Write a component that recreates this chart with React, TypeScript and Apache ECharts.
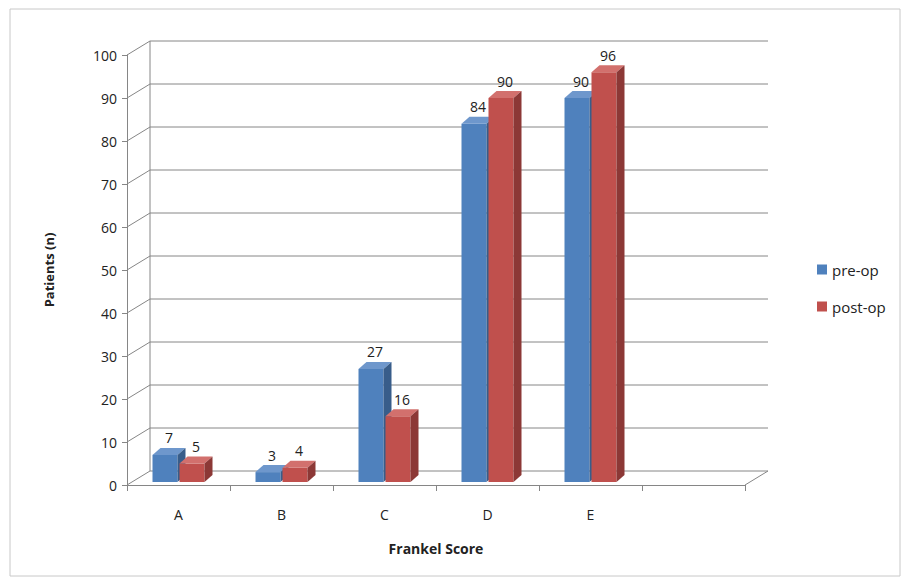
import React, { useEffect, useRef } from 'react';
import * as echarts from 'echarts';

const categories = ['A', 'B', 'C', 'D', 'E', ''];
const preOp = [7, 3, 27, 84, 90];
const postOp = [5, 4, 16, 90, 96];
const yTicks = [0, 10, 20, 30, 40, 50, 60, 70, 80, 90, 100];

const DX = 23;
const DY = -14;

function barSeries(name: string, values: number[], offset: number, front: string, top: string, side: string) {
  return {
    name,
    type: 'custom',
    z: 5,
    itemStyle: { color: front },
    data: values.map((v, i) => [i, v]),
    encode: { x: 0, y: 1 },
    renderItem: (params: any, api: any) => {
      const idx = api.value(0);
      const v = api.value(1);
      const base = api.coord([idx, 0]);
      const tp = api.coord([idx, v]);
      const bw = 25, dx = 8, dy = -7;
      const x0 = base[0] + offset;
      const yb = base[1] - 3;
      return {
        type: 'group',
        children: [
          { type: 'rect', shape: { x: x0, y: tp[1], width: bw, height: yb - tp[1] }, style: { fill: front } },
          { type: 'polygon', shape: { points: [[x0, tp[1]], [x0 + dx, tp[1] + dy], [x0 + bw + dx, tp[1] + dy], [x0 + bw, tp[1]]] }, style: { fill: top } },
          { type: 'polygon', shape: { points: [[x0 + bw, tp[1]], [x0 + bw + dx, tp[1] + dy], [x0 + bw + dx, yb + dy], [x0 + bw, yb]] }, style: { fill: side } },
          { type: 'text', x: x0 + bw / 2 + dx / 2, y: tp[1] + dy - 3, style: { text: String(v), fill: '#222', font: '14px "Open Sans", sans-serif', align: 'center', verticalAlign: 'bottom' } },
        ],
      };
    },
  };
}

export default function App() {
  const chartRef = useRef<HTMLDivElement>(null);

  useEffect(() => {
    if (!chartRef.current) return;
    const chart = echarts.init(chartRef.current, null, { renderer: 'svg' });
    const option: any = {
      animation: false,
      backgroundColor: '#fff',
      textStyle: { fontFamily: '"Open Sans", sans-serif' },
      graphic: [
        { type: 'rect', shape: { x: 10, y: 9, width: 890, height: 567 }, style: { fill: 'none', stroke: '#c8c8c8', lineWidth: 1 }, z: -1 },
      ],
      grid: { left: 127, right: 156, top: 55, bottom: 96 },
      legend: {
        orient: 'vertical',
        left: 812,
        top: 257,
        itemGap: 22,
        itemWidth: 10,
        itemHeight: 10,
        icon: 'rect',
        textStyle: { fontSize: 15, color: '#222' },
        data: ['pre-op', 'post-op'],
      },
      xAxis: {
        type: 'category',
        data: categories,
        name: 'Frankel Score',
        nameLocation: 'middle',
        nameGap: 56,
        nameTextStyle: { fontWeight: 'bold', fontSize: 14, color: '#222' },
        axisLine: { lineStyle: { color: '#868686' } },
        axisTick: { show: true, length: 6, lineStyle: { color: '#868686' } },
        axisLabel: { fontSize: 14, color: '#222', margin: 22 },
      },
      yAxis: {
        type: 'value',
        min: 0,
        max: 100,
        interval: 10,
        name: 'Patients (n)',
        nameLocation: 'middle',
        nameGap: 72,
        nameTextStyle: { fontWeight: 'bold', fontSize: 13, color: '#222' },
        axisLine: { show: true, lineStyle: { color: '#868686' } },
        axisTick: { show: true, length: 5, lineStyle: { color: '#868686' } },
        axisLabel: { fontSize: 14, color: '#222', margin: 10 },
        splitLine: { show: false },
      },
      series: [
        {
          type: 'custom',
          silent: true,
          z: 1,
          data: yTicks.map((v) => [0, v]),
          encode: { x: 0, y: 1 },
          renderItem: (params: any, api: any) => {
            const cs = params.coordSys;
            const v = api.value(1);
            const y = api.coord([0, v])[1];
            const children: any[] = [
              { type: 'polyline', shape: { points: [[cs.x, y], [cs.x + DX, y + DY], [cs.x + cs.width + DX, y + DY]] }, style: { stroke: '#868686', lineWidth: 1, fill: 'none' } },
            ];
            if (v === 0) {
              children.push({ type: 'line', shape: { x1: cs.x + cs.width, y1: y, x2: cs.x + cs.width + DX, y2: y + DY }, style: { stroke: '#868686', lineWidth: 1 } });
              children.push({ type: 'line', shape: { x1: cs.x + DX, y1: y + DY, x2: cs.x + DX, y2: cs.y + DY }, style: { stroke: '#868686', lineWidth: 1 } });
            }
            return { type: 'group', children };
          },
        },
        barSeries('pre-op', preOp, -26, '#4F81BD', '#6E97CC', '#385D8A'),
        barSeries('post-op', postOp, 1, '#C0504D', '#D2706D', '#8C3836'),
      ],
    };
    chart.setOption(option);
    return () => chart.dispose();
  }, []);

  return <div ref={chartRef} style={{ position: 'fixed', left: 0, top: 0, width: 901, height: 581 }} />;
}
